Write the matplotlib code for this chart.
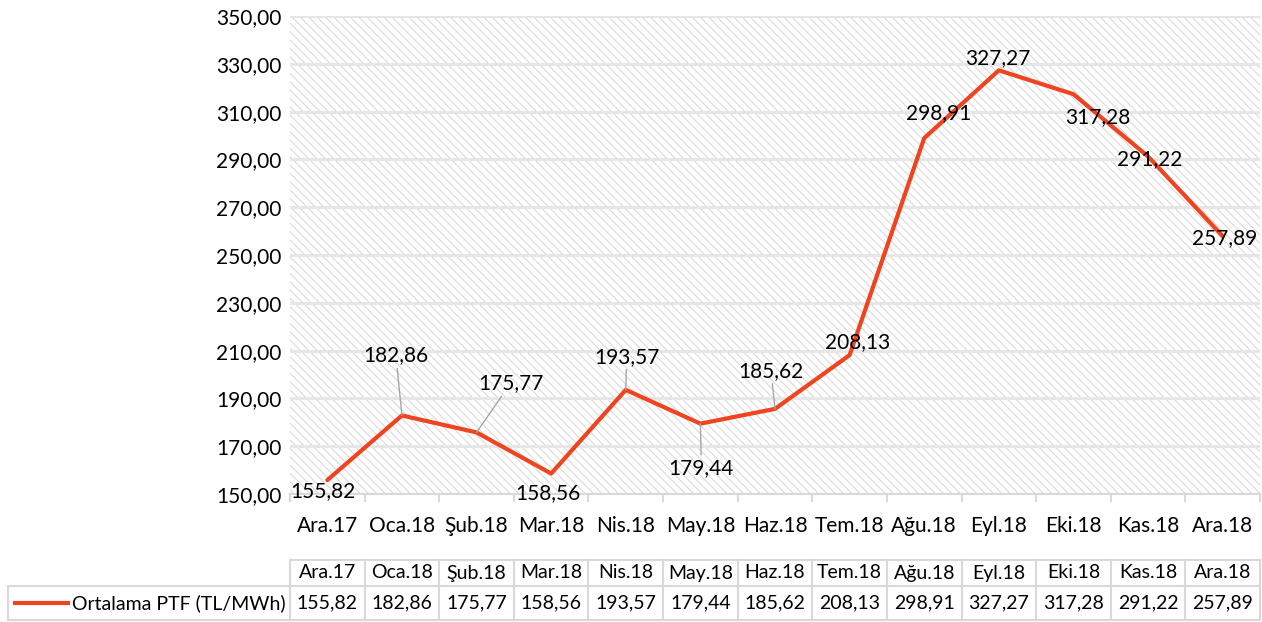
import matplotlib
matplotlib.use("Agg")
import matplotlib.pyplot as plt
import matplotlib.transforms as mtransforms
from matplotlib.patches import Rectangle
import numpy as np

plt.rcParams['font.family'] = ['Lato', 'DejaVu Sans']
plt.rcParams['hatch.linewidth'] = 0.7
plt.rcParams['hatch.color'] = '#d6d6d6'

# data
months = ["Ara.17", "Oca.18", "Şub.18", "Mar.18", "Nis.18", "May.18", "Haz.18",
          "Tem.18", "Ağu.18", "Eyl.18", "Eki.18", "Kas.18", "Ara.18"]
ptf = [155.82, 182.86, 175.77, 158.56, 193.57, 179.44, 185.62,
       208.13, 298.91, 327.27, 317.28, 291.22, 257.89]
series_name = "Ortalama PTF (TL/MWh)"
y_ticks = np.arange(150, 351, 20)

# label placement (pixel offsets from the point) and leader lines
label_offsets = [(-4, -11), (-6, 60), (34, 49), (-3, -20), (1, 33), (1, -44), (-4, 38),
                 (8, 13), (14, 25), (-1, 12), (24, -23), (2, -3), (2, -2)]
leaders = [False, True, True, False, True, True, True,
           False, False, False, False, False, False]

LINE_COLOR = '#F0431F'
GRID_COLOR = '#e6e6e6'
BORDER = '#d9d9d9'
W, H = 1262, 622


def fmt(v):
    return f"{v:.2f}".replace(".", ",")


def fy(px):
    return 1 - px / H


fig = plt.figure(figsize=(W / 100, H / 100), dpi=100)
ax = fig.add_axes([290 / W, fy(494), 970 / W, 478 / H])

# hatched plot area
bg = Rectangle((0, 0), 1, 1, transform=ax.transAxes, facecolor='white',
               edgecolor='#d6d6d6', hatch='\\\\\\\\', linewidth=0, zorder=0)
ax.add_patch(bg)

for t in y_ticks:
    ax.axhline(t, color=GRID_COLOR, lw=2.2, zorder=1)

x = np.arange(len(months))
ax.plot(x, ptf, color=LINE_COLOR, lw=3, zorder=3, solid_capstyle='round')

for i, v in enumerate(ptf):
    props = None
    if leaders[i]:
        props = dict(arrowstyle='-', color='#a6a6a6', lw=1, shrinkA=0, shrinkB=0)
    ax.annotate(fmt(v), (i, v), xytext=label_offsets[i], textcoords='offset pixels',
                ha='center', va='center', fontsize=15, color='#000000',
                arrowprops=props, zorder=4, annotation_clip=False)

ax.set_xlim(-0.5, len(months) - 0.5)
ax.set_ylim(150, 350)
ax.set_yticks(y_ticks)
ax.set_yticklabels([fmt(t) for t in y_ticks], fontsize=15)
ax.set_xticks(x)
ax.set_xticklabels(months, fontsize=15)
ax.set_xticks(np.arange(-0.5, len(months)), minor=True)
ax.tick_params(axis='x', which='major', length=0, pad=16)
ax.tick_params(axis='x', which='minor', length=6, color=BORDER, width=1.5)
ax.tick_params(axis='y', length=0, pad=6)
for s in ['left', 'top', 'right']:
    ax.spines[s].set_visible(False)
ax.spines['bottom'].set_color(BORDER)
ax.spines['bottom'].set_linewidth(1.5)

# data table
trans = mtransforms.blended_transform_factory(ax.transData, fig.transFigure)
x0, x1 = -0.5, len(months) - 0.5
y_top, y_mid, y_bot = fy(560), fy(586), fy(620)
kw = dict(color=BORDER, lw=1.5, clip_on=False)
ax.plot([x0, x1], [y_top, y_top], transform=trans, **kw)
ax.plot([x0, x1], [y_mid, y_mid], transform=trans, **kw)
ax.plot([x0, x1], [y_bot, y_bot], transform=trans, **kw)
for k in range(len(months) + 1):
    ax.plot([k - 0.5, k - 0.5], [y_top, y_bot], transform=trans, **kw)
ax.plot([8 / W, 290 / W], [y_mid, y_mid], transform=fig.transFigure, **kw)
ax.plot([8 / W, 290 / W], [y_bot, y_bot], transform=fig.transFigure, **kw)
ax.plot([8 / W, 8 / W], [y_mid, y_bot], transform=fig.transFigure, **kw)

for i, m in enumerate(months):
    ax.text(i, fy(573), m, transform=trans, ha='center', va='center', fontsize=14)
    ax.text(i, fy(603), fmt(ptf[i]), transform=trans, ha='center', va='center', fontsize=14)

ax.plot([15 / W, 68 / W], [fy(603), fy(603)], transform=fig.transFigure,
        color=LINE_COLOR, lw=3, clip_on=False)
ax.text(72 / W, fy(603), series_name, transform=fig.transFigure,
        ha='left', va='center', fontsize=14)

fig.savefig("out.png", dpi=100)
